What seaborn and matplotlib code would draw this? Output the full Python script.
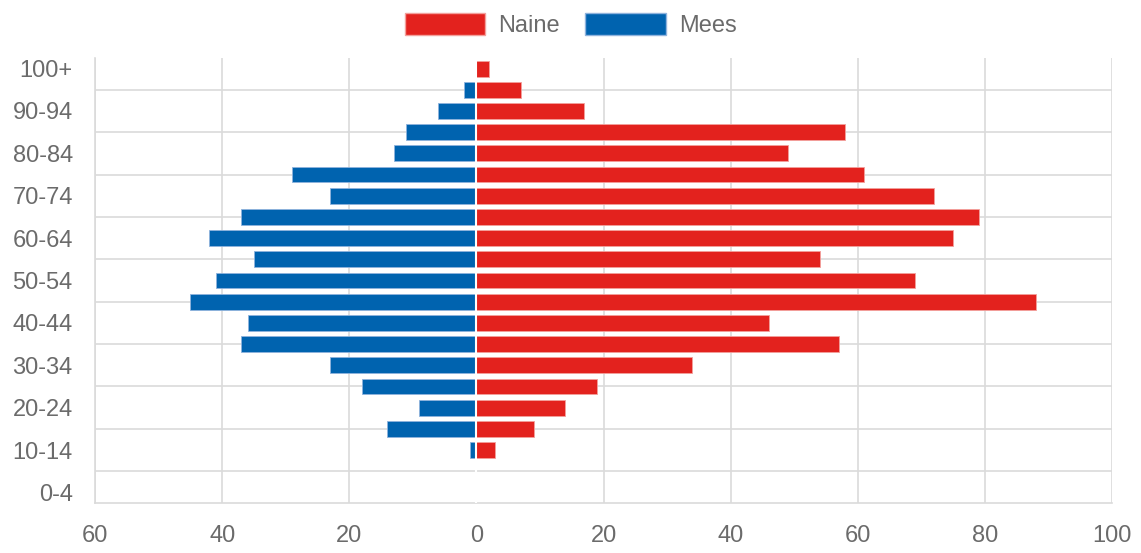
import matplotlib
matplotlib.use('Agg')
import matplotlib.pyplot as plt
import seaborn as sns
from matplotlib.patches import Patch
from matplotlib.ticker import FuncFormatter

vanus = ['100+', '95-99', '90-94', '85-89', '80-84', '75-79', '70-74', '65-69', '60-64', '55-59',
         '50-54', '45-49', '40-44', '35-39', '30-34', '25-29', '20-24', '15-19', '10-14', '5-9', '0-4']
naine = [2, 7, 17, 58, 49, 61, 72, 79, 75, 54, 69, 88, 46, 57, 34, 19, 14, 9, 3, 0, 0]
mees = [0, 2, 6, 11, 13, 29, 23, 37, 42, 35, 41, 45, 36, 37, 23, 18, 9, 14, 1, 0, 0]

punane = '#E3221E'
sinine = '#0063AF'
joon = '#dadada'
tekst = '#6b6b6b'

sns.set_style('white')
plt.rcParams['font.family'] = ['Liberation Sans', 'DejaVu Sans']

fig = plt.figure(figsize=(11.41, 5.53), dpi=100)
ax = fig.add_axes([95 / 1141, 1 - 503 / 553, (1112 - 95) / 1141, (503 - 58) / 553])

mees_neg = [-v for v in mees]
sns.barplot(x=naine, y=vanus, orient='h', color=punane, width=0.75, saturation=1,
            edgecolor='#f3a09c', linewidth=0.6, ax=ax, zorder=3)
sns.barplot(x=mees_neg, y=vanus, orient='h', color=sinine, width=0.75, saturation=1,
            edgecolor='#8fb3dd', linewidth=0.6, ax=ax, zorder=3)

# nullväärtusega tulbad peita, muidu jääb servajoon näha
for p in ax.patches:
    if p.get_width() == 0:
        p.set_visible(False)
# valge vahe meeste ja naiste tulpade vahel
ax.axvline(0, color='white', linewidth=1.5, zorder=4)

ax.set_xlim(-60, 100)
ax.set_ylim(len(vanus) - 0.5, -0.5)
ax.set_xticks(range(-60, 101, 20))
ax.xaxis.set_major_formatter(FuncFormatter(lambda v, p: f'{abs(int(v))}'))

# sildid iga teise vanuserühma juures, jooned vahepeal
ax.set_yticks(range(0, len(vanus), 2))
ax.set_yticklabels(vanus[::2])
ax.set_yticks(list(range(1, len(vanus), 2)), minor=True)

ax.grid(False)
ax.grid(axis='x', which='major', color=joon, linewidth=1.2, zorder=0)
ax.grid(axis='y', which='minor', color=joon, linewidth=1.2, zorder=0)

ax.tick_params(axis='y', which='major', length=0, pad=16, labelsize=17, labelcolor=tekst)
ax.tick_params(axis='y', which='minor', length=11, width=1.2, color=joon)
ax.tick_params(axis='x', which='major', length=8, width=1.2, color=joon, pad=8,
               labelsize=17, labelcolor=tekst)

for s in ['top', 'right']:
    ax.spines[s].set_visible(False)
for s in ['left', 'bottom']:
    ax.spines[s].set_color(joon)
    ax.spines[s].set_linewidth(1.2)
ax.set_xlabel('')
ax.set_ylabel('')

handles = [Patch(facecolor=punane, edgecolor='#f3a09c', label='Naine'),
           Patch(facecolor=sinine, edgecolor='#8fb3dd', label='Mees')]
fig.legend(handles=handles, loc='center', bbox_to_anchor=(0.5, 1 - 25 / 553), ncol=2,
           frameon=False, fontsize=17, labelcolor=tekst, handlelength=3.4, handleheight=1.05,
           handletextpad=0.55, columnspacing=1.1)

fig.savefig('out.png', dpi=100)
